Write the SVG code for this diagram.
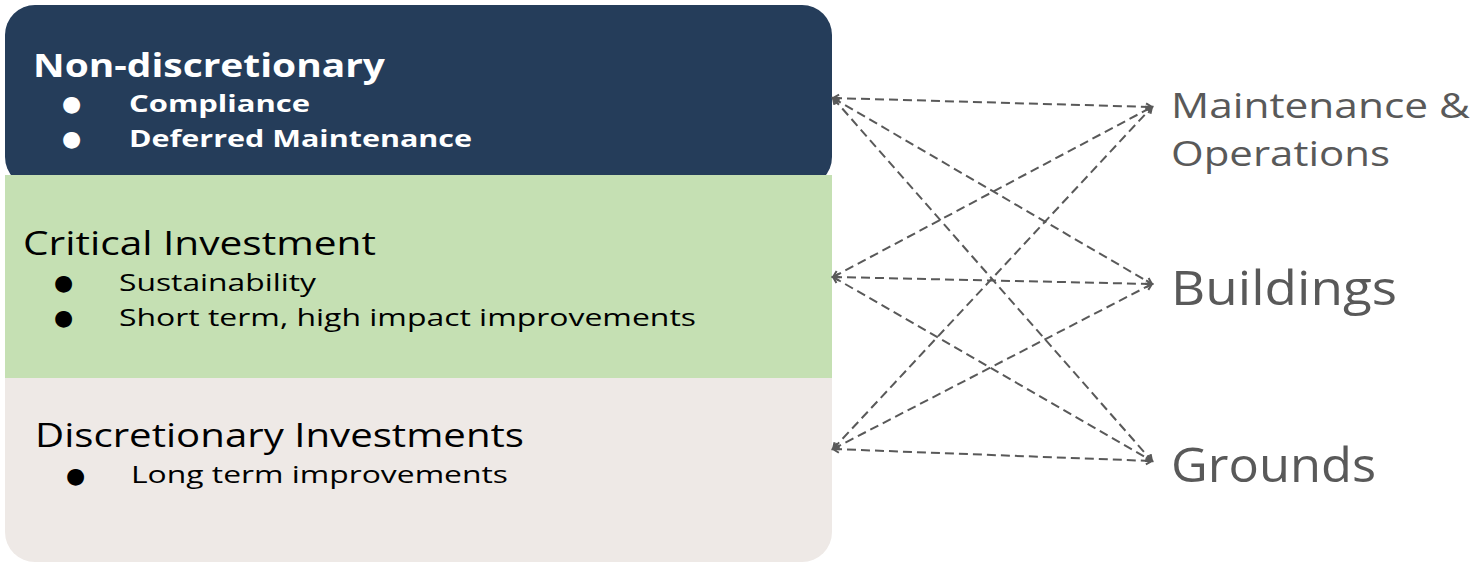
<svg xmlns="http://www.w3.org/2000/svg" width="1480" height="563" viewBox="0 0 1480 563">
<style>
.t{font-family:"Open Sans","Liberation Sans",sans-serif;}
.w{fill:#ffffff;font-weight:700;}
.k{fill:#000000;}
.g{fill:#595959;}
.b{font-family:"DejaVu Sans",sans-serif;font-size:22px;}
.h{font-size:32px;}
.i{font-size:24px;}
.c{fill:none;stroke:#595959;stroke-width:2;stroke-dasharray:9 5;marker-start:url(#ah);marker-end:url(#ah);}
</style>
<defs>
<marker id="ah" markerUnits="userSpaceOnUse" markerWidth="12" markerHeight="12" refX="9" refY="5" orient="auto-start-reverse" viewBox="0 0 12 10">
<path d="M3,1.5 L9,5 L3,8.5" fill="none" stroke="#595959" stroke-width="2"/>
</marker>
</defs>
<rect width="1480" height="563" fill="#ffffff"/>
<g id="node-discretionary">
<rect x="5" y="340" width="827" height="222" rx="30" fill="#eee9e6"/>
<text class="t k h" x="35" y="447" textLength="489" lengthAdjust="spacingAndGlyphs">Discretionary Investments</text>
<text class="b k" x="66" y="483">●</text>
<text class="t k i" x="131" y="483" textLength="377" lengthAdjust="spacingAndGlyphs">Long term improvements</text>
</g>
<g id="node-non-discretionary">
<rect x="5" y="5" width="827" height="182" rx="30" fill="#253d5a"/>
<text class="t w h" x="33" y="77" textLength="352" lengthAdjust="spacingAndGlyphs">Non-discretionary</text>
<text class="b" fill="#ffffff" x="62" y="111">●</text>
<text class="t w i" x="129" y="112" textLength="181" lengthAdjust="spacingAndGlyphs">Compliance</text>
<text class="b" fill="#ffffff" x="62" y="146">●</text>
<text class="t w i" x="129" y="147" textLength="343" lengthAdjust="spacingAndGlyphs">Deferred Maintenance</text>
</g>
<g id="node-critical">
<rect x="5" y="175" width="827" height="203" fill="#c5e0b3"/>
<text class="t k h" x="23" y="255" textLength="353" lengthAdjust="spacingAndGlyphs">Critical Investment</text>
<text class="b k" x="54" y="290">●</text>
<text class="t k i" x="119" y="291" textLength="197" lengthAdjust="spacingAndGlyphs">Sustainability</text>
<text class="b k" x="54" y="325">●</text>
<text class="t k i" x="119" y="326" textLength="577" lengthAdjust="spacingAndGlyphs">Short term, high impact improvements</text>
</g>
<g id="node-maintenance">
<text class="t g" x="1171" y="118" font-size="35" textLength="299" lengthAdjust="spacingAndGlyphs">Maintenance &amp;</text>
<text class="t g" x="1171" y="166" font-size="35" textLength="219" lengthAdjust="spacingAndGlyphs">Operations</text>
</g>
<g id="node-buildings">
<text class="t g" x="1171" y="305" font-size="48" textLength="226" lengthAdjust="spacingAndGlyphs">Buildings</text>
</g>
<g id="node-grounds">
<text class="t g" x="1171" y="482" font-size="48" textLength="205" lengthAdjust="spacingAndGlyphs">Grounds</text>
</g>
<g id="connectors">
<line class="c" x1="833" y1="98" x2="1152" y2="107"/>
<line class="c" x1="833" y1="98" x2="1152" y2="284"/>
<line class="c" x1="833" y1="98" x2="1152" y2="461"/>
<line class="c" x1="833" y1="277" x2="1152" y2="107"/>
<line class="c" x1="833" y1="277" x2="1152" y2="284"/>
<line class="c" x1="833" y1="277" x2="1152" y2="461"/>
<line class="c" x1="833" y1="449" x2="1152" y2="107"/>
<line class="c" x1="833" y1="449" x2="1152" y2="284"/>
<line class="c" x1="833" y1="449" x2="1152" y2="461"/>
</g>
</svg>
